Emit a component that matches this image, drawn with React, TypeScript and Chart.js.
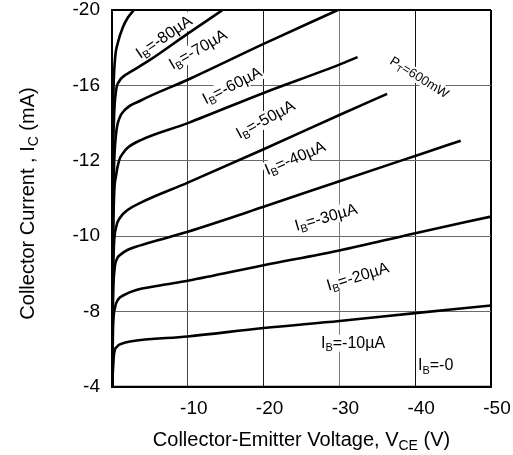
import React, { useEffect, useRef } from 'react';
import { Chart, registerables } from 'chart.js';

Chart.register(...registerables);

const FONT = '"Liberation Sans", Arial, Helvetica, sans-serif';

// Tick labels of the (equally spaced) collector-current axis, bottom to top, in mA
const Y_TICK_LABELS = [-4, -8, -10, -12, -16, -20];
// Collector-emitter voltage ticks, V
const X_TICK_VALUES = [0, -10, -20, -30, -40, -50];

// Output characteristics: VCE (V) and IC (mA) per base current
const VCE_80 = [0, -0.04, -0.08, -0.2, -0.4, -0.8, -1.45, -2.1, -2.9];
const IC_80 = [-4, -9.6, -12.6, -15.8, -17.4, -18.3, -19.1, -19.6, -20.0];

const VCE_70 = [0, -0.07, -0.13, -0.26, -0.53, -0.92, -1.58, -2.37, -5, -10, -14.6];
const IC_70 = [-4, -9.6, -11.8, -14.2, -15.7, -16.2, -16.5, -16.7, -17.35, -18.75, -20.0];

const VCE_60 = [0, -0.07, -0.13, -0.26, -0.53, -0.92, -1.7, -3.8, -10, -20, -29.8];
const IC_60 = [-4, -8.3, -10.4, -11.8, -13.4, -14.2, -14.7, -15.2, -16.3, -18.2, -20.0];

const VCE_50 = [0, -0.07, -0.13, -0.26, -0.53, -0.92, -1.45, -2.1, -3.8, -10, -20, -30, -32.4];
const IC_50 = [-4, -7.6, -9.6, -11.0, -11.6, -12.0, -12.4, -12.7, -13.1, -14.0, -15.6, -17.1, -17.5];

const VCE_40 = [0, -0.07, -0.13, -0.26, -0.53, -1.06, -2.1, -3.8, -10, -20, -30, -36.3];
const IC_40 = [-4, -7.05, -8.85, -9.77, -10.23, -10.49, -10.7, -10.89, -11.42, -12.61, -14.43, -15.55];

const VCE_30 = [0, -0.07, -0.13, -0.33, -0.66, -1.06, -2.1, -5, -10, -20, -30, -40, -46];
const IC_30 = [-4, -6.5, -8.3, -9.1, -9.4, -9.5, -9.64, -9.83, -10.12, -10.78, -11.46, -12.26, -13.06];

const VCE_20 = [0, -0.07, -0.13, -0.4, -0.8, -1.7, -3, -6.3, -10, -20, -30, -40, -50];
const IC_20 = [-4, -5.46, -7.05, -8.11, -8.32, -8.45, -8.56, -8.69, -8.82, -9.23, -9.62, -10.08, -10.52];

const VCE_10 = [0, -0.13, -0.26, -0.66, -1.32, -2.37, -10, -20, -30, -40, -50];
const IC_10 = [-4, -4.93, -5.72, -6.14, -6.3, -6.41, -6.68, -7.13, -7.5, -7.92, -8.16];

const VCE_0 = [0, -50];
const IC_0 = [-4, -4];

const SERIES = [
  { name: 'IB=-80µA', vce: VCE_80, ic: IC_80 },
  { name: 'IB=-70µA', vce: VCE_70, ic: IC_70 },
  { name: 'IB=-60µA', vce: VCE_60, ic: IC_60 },
  { name: 'IB=-50µA', vce: VCE_50, ic: IC_50 },
  { name: 'IB=-40µA', vce: VCE_40, ic: IC_40 },
  { name: 'IB=-30µA', vce: VCE_30, ic: IC_30 },
  { name: 'IB=-20µA', vce: VCE_20, ic: IC_20 },
  { name: 'IB=-10µA', vce: VCE_10, ic: IC_10 },
  { name: 'IB=-0', vce: VCE_0, ic: IC_0 },
];

// position on the equally-spaced current axis for a current value
function toPos(v: number): number {
  const t = Y_TICK_LABELS;
  for (let k = 0; k < t.length - 1; k++) {
    const a = t[k];
    const b = t[k + 1];
    if ((v <= a && v >= b) || k === t.length - 2) return k + (v - a) / (b - a);
  }
  return 0;
}

type Part = { t: string; sub?: boolean };

// Curve annotations (anchored in data coordinates)
const ANNOTATIONS: { parts: Part[]; v: number; i: number; rot: number; size: number }[] = [
  { parts: [{ t: 'I' }, { t: 'B', sub: true }, { t: '=-80µA' }], v: -6.8, i: -18.6, rot: -34, size: 16 },
  { parts: [{ t: 'I' }, { t: 'B', sub: true }, { t: '=-70µA' }], v: -11.3, i: -17.95, rot: -30, size: 16 },
  { parts: [{ t: 'I' }, { t: 'B', sub: true }, { t: '=-60µA' }], v: -15.8, i: -16.03, rot: -27, size: 16 },
  { parts: [{ t: 'I' }, { t: 'B', sub: true }, { t: '=-50µA' }], v: -20.2, i: -14.23, rot: -28, size: 16 },
  { parts: [{ t: 'I' }, { t: 'B', sub: true }, { t: '=-40µA' }], v: -24.1, i: -12.18, rot: -23, size: 16 },
  { parts: [{ t: 'I' }, { t: 'B', sub: true }, { t: '=-30µA' }], v: -28.2, i: -10.52, rot: -16, size: 16 },
  { parts: [{ t: 'I' }, { t: 'B', sub: true }, { t: '=-20µA' }], v: -32.4, i: -8.95, rot: -17, size: 16 },
  { parts: [{ t: 'I' }, { t: 'B', sub: true }, { t: '=-10µA' }], v: -31.8, i: -6.36, rot: 0, size: 16 },
  { parts: [{ t: 'I' }, { t: 'B', sub: true }, { t: '=-0' }], v: -42.7, i: -5.19, rot: 0, size: 16 },
  { parts: [{ t: 'P' }, { t: 'T', sub: true }, { t: '=600mW' }], v: -40.6, i: -16.45, rot: 32, size: 13 },
];

const X_TITLE: Part[] = [{ t: 'Collector-Emitter Voltage, V' }, { t: 'CE', sub: true }, { t: ' (V)' }];
const Y_TITLE: Part[] = [{ t: 'Collector Current , I' }, { t: 'C', sub: true }, { t: ' (mA)' }];

function drawRich(
  ctx: CanvasRenderingContext2D,
  parts: Part[],
  cx: number,
  cy: number,
  rot: number,
  size: number,
  bg: boolean
) {
  const subSize = Math.round(size * 0.7);
  ctx.save();
  const widths: number[] = [];
  let w = 0;
  for (const p of parts) {
    ctx.font = `${p.sub ? subSize : size}px ${FONT}`;
    const m = ctx.measureText(p.t).width;
    widths.push(m);
    w += m;
  }
  ctx.translate(cx, cy);
  ctx.rotate((rot * Math.PI) / 180);
  if (bg) {
    ctx.fillStyle = '#ffffff';
    ctx.fillRect(-w / 2 - 1.5, -size * 0.48, w + 3, size * 1.05);
  }
  ctx.fillStyle = '#000000';
  ctx.textAlign = 'left';
  ctx.textBaseline = 'alphabetic';
  const base = size * 0.36;
  let x = -w / 2;
  parts.forEach((p, k) => {
    ctx.font = `${p.sub ? subSize : size}px ${FONT}`;
    ctx.fillText(p.t, x, p.sub ? base + size * 0.2 : base);
    x += widths[k];
  });
  ctx.restore();
}

const textPlugin = {
  id: 'curveText',
  beforeDatasetsDraw(chart: any) {
    const ctx = chart.ctx as CanvasRenderingContext2D;
    const xs = chart.scales.x;
    const ys = chart.scales.y;
    for (const a of ANNOTATIONS) {
      drawRich(ctx, a.parts, xs.getPixelForValue(a.v), ys.getPixelForValue(toPos(a.i)), a.rot, a.size, true);
    }
  },
  afterDraw(chart: any) {
    const ctx = chart.ctx as CanvasRenderingContext2D;
    const ca = chart.chartArea;
    drawRich(ctx, X_TITLE, (ca.left + ca.right) / 2, ca.bottom + 52, 0, 20, false);
    drawRich(ctx, Y_TITLE, 27, (ca.top + ca.bottom) / 2 + 5, -90, 20, false);
  },
};

const X_GRID_COLORS: Record<string, string> = {
  '0': '#000000',
  '-10': '#444444',
  '-20': '#1a1a1a',
  '-30': '#808080',
  '-40': '#111111',
  '-50': '#000000',
};

export default function App() {
  const ref = useRef<HTMLCanvasElement | null>(null);

  useEffect(() => {
    document.body.style.margin = '0';
    const canvas = ref.current;
    if (!canvas) return;
    const chart = new Chart(canvas, {
      type: 'line',
      data: {
        datasets: SERIES.map((s) => ({
          label: s.name,
          data: s.vce.map((v, k) => ({ x: v, y: toPos(s.ic[k]) })),
          borderColor: '#000000',
          borderWidth: 2.6,
          pointRadius: 0,
          fill: false,
          cubicInterpolationMode: 'monotone' as const,
        })),
      },
      options: {
        responsive: false,
        animation: false,
        events: [],
        layout: { padding: { top: 10, right: 22, bottom: 0, left: 0 } },
        plugins: {
          legend: { display: false },
          tooltip: { enabled: false },
          title: { display: false },
        },
        scales: {
          x: {
            type: 'linear',
            min: -50,
            max: 0,
            reverse: true,
            afterBuildTicks: (scale: any) => {
              scale.ticks = X_TICK_VALUES.map((v) => ({ value: v }));
            },
            afterFit: (scale: any) => {
              scale.height = 68;
              scale.paddingLeft = 0;
              scale.paddingRight = 0;
              scale.paddingTop = 0;
              scale.paddingBottom = 0;
            },
            ticks: {
              color: '#000000',
              font: { family: FONT, size: 19, lineHeight: 1 },
              padding: 12,
              labelOffset: 6,
              maxRotation: 0,
              autoSkip: false,
              callback: (v: any) => (Number(v) === 0 ? '' : String(v)),
            },
            grid: {
              drawTicks: false,
              color: (c: any) => X_GRID_COLORS[String(c.tick?.value)] ?? '#666666',
              lineWidth: (c: any) => (c.tick?.value === 0 || c.tick?.value === -50 ? 2 : 1),
            },
            border: { display: true, color: '#000000', width: 2 },
            title: { display: false },
          },
          y: {
            type: 'linear',
            min: 0,
            max: 5,
            afterBuildTicks: (scale: any) => {
              scale.ticks = Y_TICK_LABELS.map((_, k) => ({ value: k }));
            },
            afterFit: (scale: any) => {
              scale.width = 112;
              scale.paddingLeft = 0;
              scale.paddingRight = 0;
              scale.paddingTop = 0;
              scale.paddingBottom = 0;
            },
            ticks: {
              color: '#000000',
              font: { family: FONT, size: 19, lineHeight: 1 },
              padding: 12,
              autoSkip: false,
              callback: (v: any) => String(Y_TICK_LABELS[Math.round(Number(v))]),
            },
            grid: {
              drawTicks: false,
              color: (c: any) => (c.tick?.value === 0 || c.tick?.value === 5 ? '#000000' : '#6a6a6a'),
              lineWidth: (c: any) => (c.tick?.value === 0 || c.tick?.value === 5 ? 2 : 1),
            },
            border: { display: true, color: '#000000', width: 2 },
            title: { display: false },
          },
        },
      },
      plugins: [textPlugin],
    });
    return () => chart.destroy();
  }, []);

  return (
    <div style={{ width: 513, height: 455, background: '#ffffff' }}>
      <canvas ref={ref} width={513} height={455} style={{ display: 'block' }} />
    </div>
  );
}
